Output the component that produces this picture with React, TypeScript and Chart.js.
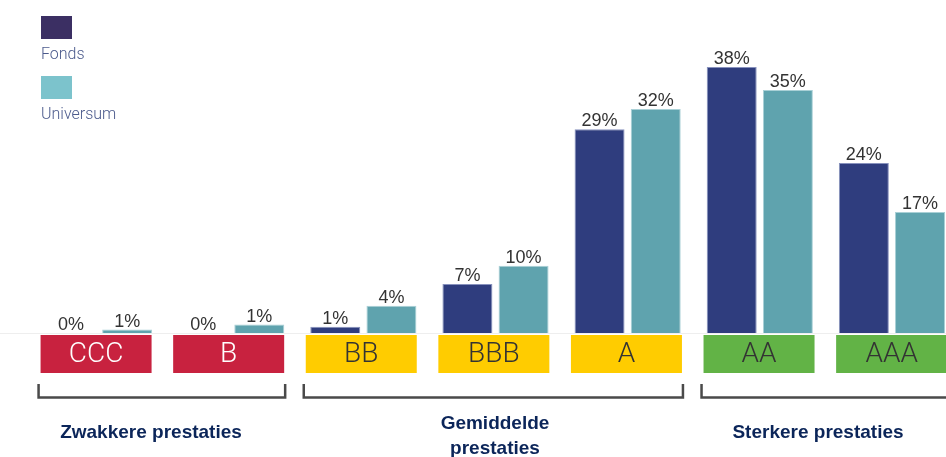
import React, { useEffect, useRef } from "react";
import { Chart, registerables } from "chart.js";

Chart.register(...registerables);

const categories = ["CCC", "B", "BB", "BBB", "A", "AA", "AAA"];
const fondsValues = [0, 0, 0.9, 7, 29.1, 38, 24.3];
const universumValues = [0.5, 1.2, 3.9, 9.6, 32, 34.7, 17.3];
const seriesNames = ["Fonds", "Universum"];
const boxColors = ["#c8223f", "#c8223f", "#ffcc00", "#ffcc00", "#ffcc00", "#62b346", "#62b346"];
const boxTextColors = ["#ffffff", "#ffffff", "#333333", "#333333", "#333333", "#333333", "#333333"];
const groupFrom = [0, 2, 5];
const groupTo = [1, 4, 6];
const groupLabels = [["Zwakkere prestaties"], ["Gemiddelde", "prestaties"], ["Sterkere prestaties"]];

const W = 960;
const H = 457;
const groupLabelX = [151, 495, 818];

const overlayPlugin = {
  id: "overlay",
  beforeDatasetsDraw(chart: any) {
    const ctx = chart.ctx;
    const y0 = chart.scales.y.getPixelForValue(0);
    ctx.save();
    ctx.strokeStyle = "#eeeeee";
    ctx.lineWidth = 1;
    ctx.beginPath();
    ctx.moveTo(0, y0 + 0.5);
    ctx.lineTo(W, y0 + 0.5);
    ctx.stroke();
    ctx.restore();
  },
  afterDatasetsDraw(chart: any) {
    const ctx = chart.ctx;
    const xs = chart.scales.x;
    const y0 = chart.scales.y.getPixelForValue(0);
    ctx.save();
    // legend
    const legendColors = ["#3b2f63", "#7cc3cc"];
    seriesNames.forEach((name, i) => {
      const top = 16 + i * 60;
      ctx.fillStyle = legendColors[i];
      ctx.fillRect(41, top, 31, 23);
      ctx.fillStyle = "#4b5a8c";
      ctx.font = "300 16px Roboto";
      ctx.textAlign = "left";
      ctx.textBaseline = "alphabetic";
      ctx.fillText(name, 41, top + 43);
    });
    // value labels
    ctx.font = "18px 'Liberation Sans', Arial, sans-serif";
    ctx.fillStyle = "#333333";
    ctx.textAlign = "center";
    ctx.textBaseline = "alphabetic";
    chart.data.datasets.forEach((ds: any, di: number) => {
      const meta = chart.getDatasetMeta(di);
      meta.data.forEach((el: any, i: number) => {
        const v = Math.round(ds.data[i]);
        ctx.fillText(v + "%", el.x, el.y - 3);
      });
    });
    // category boxes
    const boxTop = y0 + 2;
    const boxH = 38;
    const boxW = 111;
    const boxLeft = (i: number) => xs.getPixelForValue(i) - boxW / 2 - 3 + i * 0.45;
    categories.forEach((c, i) => {
      const l = boxLeft(i);
      ctx.fillStyle = boxColors[i];
      ctx.fillRect(l, boxTop, boxW, boxH);
      ctx.fillStyle = boxTextColors[i];
      ctx.font = "300 28px Roboto";
      ctx.textAlign = "center";
      ctx.textBaseline = "middle";
      ctx.fillText(c, l + boxW / 2, boxTop + boxH / 2 + 1);
    });
    // brackets & group labels
    groupFrom.forEach((from, gi) => {
      const l = boxLeft(from) - 2;
      const r = boxLeft(groupTo[gi]) + boxW + 1;
      ctx.strokeStyle = "#4a4a4a";
      ctx.lineWidth = 2.5;
      ctx.beginPath();
      ctx.moveTo(l, 384);
      ctx.lineTo(l, 397.5);
      ctx.lineTo(r, 397.5);
      ctx.lineTo(r, 384);
      ctx.stroke();
      ctx.fillStyle = "#0b2559";
      ctx.font = "bold 19px 'Liberation Sans', Arial, sans-serif";
      ctx.textAlign = "center";
      ctx.textBaseline = "middle";
      const cx = groupLabelX[gi];
      const lines = groupLabels[gi];
      if (lines.length === 1) {
        ctx.fillText(lines[0], cx, 433);
      } else {
        lines.forEach((t, k) => ctx.fillText(t, cx, 424 + k * 25));
      }
    });
    ctx.restore();
  },
};

export default function App() {
  const ref = useRef<HTMLCanvasElement | null>(null);
  useEffect(() => {
    if (!ref.current) return;
    const chart = new Chart(ref.current, {
      type: "bar",
      data: {
        labels: categories,
        datasets: [
          {
            label: seriesNames[0],
            data: fondsValues,
            backgroundColor: "#2f3d7e",
            borderColor: "#8791bd",
            borderWidth: 1,
            categoryPercentage: 0.85,
            barPercentage: 0.89,
          },
          {
            label: seriesNames[1],
            data: universumValues,
            backgroundColor: "#5fa3ae",
            borderColor: "#a9d0d6",
            borderWidth: 1,
            categoryPercentage: 0.85,
            barPercentage: 0.89,
          },
        ],
      },
      options: {
        responsive: false,
        animation: false,
        layout: { padding: { left: 33, right: 2, top: 53, bottom: 124 } },
        plugins: { legend: { display: false }, tooltip: { enabled: false } },
        scales: {
          x: { display: false },
          y: { display: false, min: 0, max: 40 },
        },
      },
      plugins: [overlayPlugin],
    });
    return () => chart.destroy();
  }, []);
  return (
    <div style={{ position: "fixed", left: 0, top: 0, width: 946, height: 457, overflow: "hidden", background: "#fff" }}>
      <canvas ref={ref} width={W} height={H} style={{ display: "block", width: W, height: H }} />
    </div>
  );
}
